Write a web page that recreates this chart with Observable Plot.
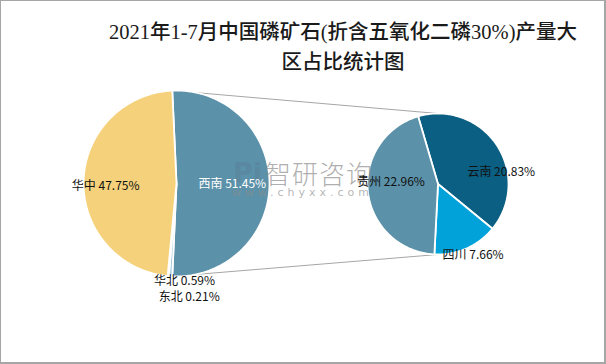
<!DOCTYPE html>
<html>
<head>
<meta charset="utf-8">
<script src="https://cdn.jsdelivr.net/npm/d3@7"></script>
<script src="https://cdn.jsdelivr.net/npm/@observablehq/plot@0.6"></script>
<style>
  html, body { margin: 0; padding: 0; background: #fff; }
  #wrap { position: relative; width: 606px; height: 364px; overflow: hidden; background: #fff; }
  #frame { position: absolute; left: 0; top: 0; width: 606px; height: 364px; box-sizing: border-box;
           border: 1px solid #A6A6A6; border-right-width: 2px; border-bottom-width: 2px; pointer-events: none; }
  #title { position: absolute; left: 80px; top: 17px; width: 526px; text-align: center;
           font-family: "Liberation Serif", "Noto Sans CJK SC", serif; font-size: 20.5px; line-height: 30px;
           color: #1a1a1a; font-weight: 500; }
  #chart { position: absolute; left: 0; top: 0; }
  .wm1 { position: absolute; left: 265px; top: 158px; font-family: "Noto Sans CJK SC", sans-serif; font-weight: 300;
         font-size: 26px; line-height: 30px; color: rgba(140,140,140,0.7); letter-spacing: 1px; }
  .wmlogo { position: absolute; left: 233px; top: 158px; font-family: "DejaVu Sans", sans-serif; font-weight: bold;
         font-size: 27px; line-height: 30px; color: rgba(90,115,140,0.3); }
  .wm2 { position: absolute; left: 232px; top: 185px; font-family: "DejaVu Sans", sans-serif;
         font-size: 11px; line-height: 16px; color: rgba(140,140,140,0.65); letter-spacing: 4px; }
</style>
</head>
<body>
<div id="wrap">
  <div id="chart"></div>
  <div class="wmlogo">Pi</div>
  <div class="wm1">智研咨询</div>
  <div class="wm2">www.chyxx.com</div>
  <div id="labels"></div>
  <div id="title">2021年1-7月中国磷矿石(折含五氧化二磷30%)产量大<br>区占比统计图</div>
  <div id="frame"></div>
</div>
<script>
// ---- data ----
const leftNames = ["西南", "华北", "东北", "华中"];
const leftValues = [51.45, 0.59, 0.21, 47.75];
const rightNames = ["云南", "四川", "贵州"];
const rightValues = [20.83, 7.66, 22.96];

// ---- styles / layout ----
const colors = {
  "西南": "#5B91A9", "华北": "#A8CBE0", "东北": "#D3E3EE", "华中": "#F6D17B",
  "云南": "#0A5F82", "四川": "#00A2D9", "贵州": "#5B91A9"
};
const labelColors = { "西南": "#ffffff" };
const W = 606, H = 364;
const L = { cx: 176, cy: 183, r: 93 };
const R = { cx: 437.5, cy: 183.5, r: 70.5 };
// label offsets (px) relative to slice anchor
const labelPos = {
  "西南": { k: 0.6, dx: 0, dy: 1 },
  "华中": { k: 0.6, dx: -15, dy: 4 },
  "华北": { k: 1.0, dx: 14, dy: 5 },
  "东北": { k: 1.0, dx: 21, dy: 21 },
  "贵州": { k: 0.6, dx: -5, dy: -7 },
  "云南": { k: 0.6, dx: 28, dy: 12 },
  "四川": { k: 0.6, dx: 18, dy: 32 }
};

const pt = (c, a, rr) => [c.cx + rr * Math.sin(a), c.cy - rr * Math.cos(a)];

function slices(names, values, c, start) {
  const arcs = d3.pie().sort(null).value(d => d.v)
    .startAngle(start).endAngle(start + 2 * Math.PI)(names.map((n, i) => ({ n, v: values[i] })));
  return arcs.map(a => ({ name: a.data.n, value: a.data.v, a0: a.startAngle, a1: a.endAngle, c }));
}

const leftSum = d3.sum(leftValues);
const leftStart = Math.PI / 2 - (leftValues[0] / leftSum) * Math.PI; // secondary slice centred on the right
const rightStart = -16.4 * Math.PI / 180;

const allSlices = [
  ...slices(leftNames, leftValues, L, leftStart),
  ...slices(rightNames, rightValues, R, rightStart)
];

const poly = [];
for (const s of allSlices) {
  const n = Math.max(2, Math.ceil((s.a1 - s.a0) / (Math.PI / 180)));
  poly.push({ name: s.name, x: s.c.cx, y: s.c.cy, fill: colors[s.name] });
  for (let i = 0; i <= n; i++) {
    const a = s.a0 + (s.a1 - s.a0) * i / n;
    const [x, y] = pt(s.c, a, s.c.r);
    poly.push({ name: s.name, x, y, fill: colors[s.name] });
  }
}

// connector lines
const xi = allSlices[0];
const p1 = pt(L, xi.a0, L.r), p2 = pt(R, 0, R.r);
const p3 = pt(L, xi.a1, L.r), p4 = pt(R, Math.PI, R.r);
const conn = [
  { g: "top", x: p1[0], y: p1[1] }, { g: "top", x: p2[0], y: p2[1] },
  { g: "bot", x: p3[0], y: p3[1] }, { g: "bot", x: p4[0], y: p4[1] }
];

const labels = allSlices.map(s => {
  const lp = labelPos[s.name];
  const [x, y] = pt(s.c, (s.a0 + s.a1) / 2, s.c.r * lp.k);
  return { x: x + lp.dx, y: y + lp.dy, text: `${s.name} ${s.value.toFixed(2)}%`, color: labelColors[s.name] || "#111" };
});

const chart = Plot.plot({
  width: W, height: H, margin: 0,
  x: { domain: [0, W], range: [0, W], axis: null },
  y: { domain: [0, H], range: [0, H], axis: null },
  color: { type: "identity" },
  style: { background: "transparent", overflow: "visible" },
  marks: [
    Plot.line(conn, { x: "x", y: "y", z: "g", stroke: "#A6A6A6", strokeWidth: 1 }),
    Plot.line(poly, { x: "x", y: "y", z: "name", fill: "fill", stroke: "#ffffff", strokeWidth: 1.8,
                      curve: "linear-closed", strokeLinejoin: "round" })
  ]
});
document.getElementById("chart").appendChild(chart);

const labelChart = Plot.plot({
  width: W, height: H, margin: 0,
  x: { domain: [0, W], range: [0, W], axis: null },
  y: { domain: [0, H], range: [0, H], axis: null },
  color: { type: "identity" },
  style: { background: "transparent", overflow: "visible" },
  marks: [
    Plot.text(labels, { x: "x", y: "y", text: "text", fill: "color", fontSize: 12,
                        fontFamily: "'Noto Sans CJK SC', sans-serif", textAnchor: "middle" })
  ]
});
labelChart.style.position = "absolute";
labelChart.style.left = "0px";
labelChart.style.top = "0px";
document.getElementById("labels").appendChild(labelChart);
</script>
</body>
</html>
